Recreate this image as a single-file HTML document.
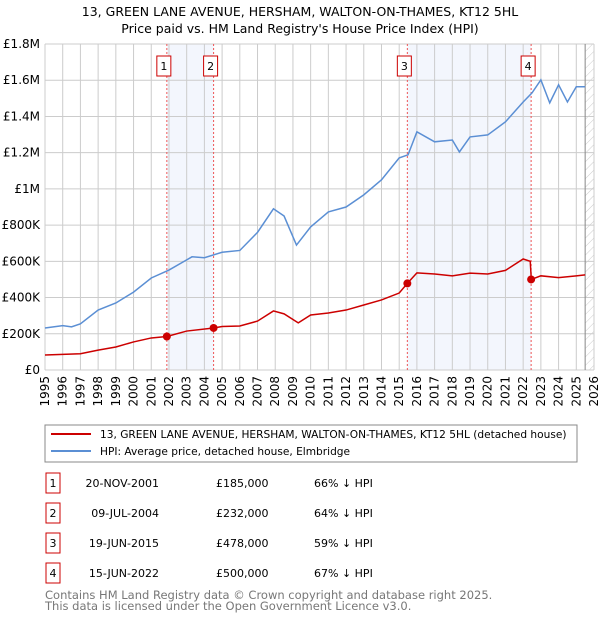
<!DOCTYPE html>
<html><head><meta charset="utf-8"><style>
body{margin:0;background:#fff;font-family:"Liberation Sans","DejaVu Sans",sans-serif;}
svg text{font-family:"DejaVu Sans","Liberation Sans",sans-serif;}
</style></head><body>
<svg id="c" width="600" height="620" xmlns="http://www.w3.org/2000/svg">
<defs><pattern id="hatch" width="6" height="6" patternUnits="userSpaceOnUse" patternTransform="rotate(45)"><line x1="0" y1="0" x2="0" y2="6" stroke="#ccc" stroke-width="1"/></pattern></defs>
<text x="300" y="16" text-anchor="middle" font-size="12.5">13, GREEN LANE AVENUE, HERSHAM, WALTON-ON-THAMES, KT12 5HL</text>
<text x="300" y="33" text-anchor="middle" font-size="12.5">Price paid vs. HM Land Registry's House Price Index (HPI)</text>
<g id="plot"></g>
<rect x="45" y="425" width="532" height="37" fill="#fff" stroke="#888"/>
<line x1="51" y1="434" x2="91" y2="434" stroke="#cc0000" stroke-width="2"/>
<text x="100" y="438" font-size="10.6">13, GREEN LANE AVENUE, HERSHAM, WALTON-ON-THAMES, KT12 5HL (detached house)</text>
<line x1="51" y1="451" x2="91" y2="451" stroke="#5b8fd4" stroke-width="2"/>
<text x="100" y="455" font-size="10.6">HPI: Average price, detached house, Elmbridge</text>
<g id="table" font-size="11"></g>
<text x="45" y="599" font-size="11.5" fill="#777">Contains HM Land Registry data © Crown copyright and database right 2025.</text>
<text x="45" y="610" font-size="11.5" fill="#777">This data is licensed under the Open Government Licence v3.0.</text>
</svg>
<script>
const hpiYears=[1995,1996,1996.5,1997,1998,1999,2000,2001,2002,2003,2003.3,2004,2005,2006,2007,2007.9,2008.5,2009.2,2010,2011,2012,2013,2014,2015,2015.5,2016,2017,2018,2018.4,2019,2020,2021,2022,2022.5,2023,2023.5,2024,2024.5,2025,2025.5];
const hpiValues=[232000,245000,238000,255000,331000,370000,430000,508000,552000,608000,625000,620000,650000,660000,760000,890000,850000,690000,790000,873000,900000,967000,1050000,1171000,1188000,1315000,1260000,1270000,1204000,1287000,1298000,1370000,1480000,1530000,1602000,1475000,1575000,1480000,1564000,1564000];
const ppYears=[1995,1997,1998,1999,2000,2001,2001.88,2003,2004.52,2005,2006,2007,2007.9,2008.5,2009.3,2010,2011,2012,2013,2014,2015,2015.46,2016,2017,2018,2019,2020,2021,2022,2022.4,2022.46,2023,2024,2025,2025.5];
const ppValues=[83000,90000,110000,127000,155000,177000,185000,215000,232000,240000,243000,270000,326000,310000,260000,304000,315000,331000,359000,387000,425000,478000,536000,530000,520000,535000,530000,550000,613000,600000,500000,520000,510000,520000,525000];
const saleNums=["1","2","3","4"];
const saleYears=[2001.88,2004.52,2015.46,2022.45];
const salePrices=[185000,232000,478000,500000];
const saleDates=["20-NOV-2001","09-JUL-2004","19-JUN-2015","15-JUN-2022"];
const salePriceLabels=["£185,000","£232,000","£478,000","£500,000"];
const saleHpi=["66% ↓ HPI","64% ↓ HPI","59% ↓ HPI","67% ↓ HPI"];
const yTicks=[0,200000,400000,600000,800000,1000000,1200000,1400000,1600000,1800000];
const yTickLabels=["£0","£200K","£400K","£600K","£800K","£1M","£1.2M","£1.4M","£1.6M","£1.8M"];
const X0=45,X1=594,Y0=370,Y1=44;
const x=v=>X0+(v-1995)/31*(X1-X0);
const y=v=>Y0-v/1800000*(Y0-Y1);
const NS="http://www.w3.org/2000/svg";
const plot=document.getElementById('plot');
function mk(tag,attrs,parent){const e=document.createElementNS(NS,tag);for(const k in attrs)e.setAttribute(k,attrs[k]);(parent||plot).appendChild(e);return e;}
let e;
e=mk('rect',{x:x(saleYears[0]),y:Y1,width:x(saleYears[1])-x(saleYears[0]),height:Y0-Y1,fill:'#f3f6fd'});


e=mk('rect',{x:x(saleYears[2]),y:Y1,width:x(saleYears[3])-x(saleYears[2]),height:Y0-Y1,fill:'#f3f6fd'});


e=mk('rect',{x:x(2025.5),y:Y1,width:X1-x(2025.5),height:Y0-Y1,fill:'url(#hatch)'});


for(let yr=1995;yr<=2026;yr++){
 e=mk('line',{x1:x(yr),x2:x(yr),y1:Y1,y2:Y0,stroke:'#ccc','stroke-width':1});
 
 
 e=mk('text',{x:0,y:0,'font-size':12,'text-anchor':'end',transform:`translate(${x(yr)+4},${Y0+6}) rotate(-90)`});
 e.textContent=yr;
 
 
}
yTicks.forEach((t,i)=>{
 e=mk('line',{x1:X0,x2:X1,y1:y(t),y2:y(t),stroke:'#ccc','stroke-width':1});
 
 
 e=mk('text',{x:X0-5,y:y(t)+4,'font-size':12,'text-anchor':'end'});
 e.textContent=yTickLabels[i];
 
 
});
e=mk('line',{x1:x(2025.5),x2:x(2025.5),y1:Y1,y2:Y0,stroke:'#888','stroke-width':1});


saleYears.forEach((s,i)=>{
 e=mk('line',{x1:x(s),x2:x(s),y1:Y1,y2:Y0,stroke:'#e55','stroke-width':1,'stroke-dasharray':'2,2'});
 
 
 e=mk('rect',{x:x(s)-10,y:56,width:14,height:20,fill:'#fff',stroke:'#cc0000'});
 
 
 e=mk('text',{x:x(s)-3,y:70,'font-size':11,'text-anchor':'middle'});
 e.textContent=saleNums[i];
 
 
});
e=mk('polyline',{points:hpiYears.map((v,i)=>x(v)+','+y(hpiValues[i])).join(' '),fill:'none',stroke:'#5b8fd4','stroke-width':1.5});


e=mk('polyline',{points:ppYears.map((v,i)=>x(v)+','+y(ppValues[i])).join(' '),fill:'none',stroke:'#cc0000','stroke-width':1.5});


saleYears.forEach((s,i)=>{
 e=mk('circle',{cx:x(s),cy:y(salePrices[i]),r:4,fill:'#cc0000'});
 
 
});
const tb=document.getElementById('table');
saleNums.forEach((n,i)=>{
 const cy=483+i*30;
 e=mk('rect',{x:46,y:cy-10,width:14,height:20,fill:'#fff',stroke:'#cc0000'},tb);
 
 
 e=mk('text',{x:53,y:cy+4,'text-anchor':'middle'},tb);e.textContent=n;
 
 
 e=mk('text',{x:159,y:cy+4,'text-anchor':'end'},tb);e.textContent=saleDates[i];
 
 
 e=mk('text',{x:216,y:cy+4},tb);e.textContent=salePriceLabels[i];
 
 
 e=mk('text',{x:314,y:cy+4},tb);e.textContent=saleHpi[i];
 
 
});
</script>
</body></html>
